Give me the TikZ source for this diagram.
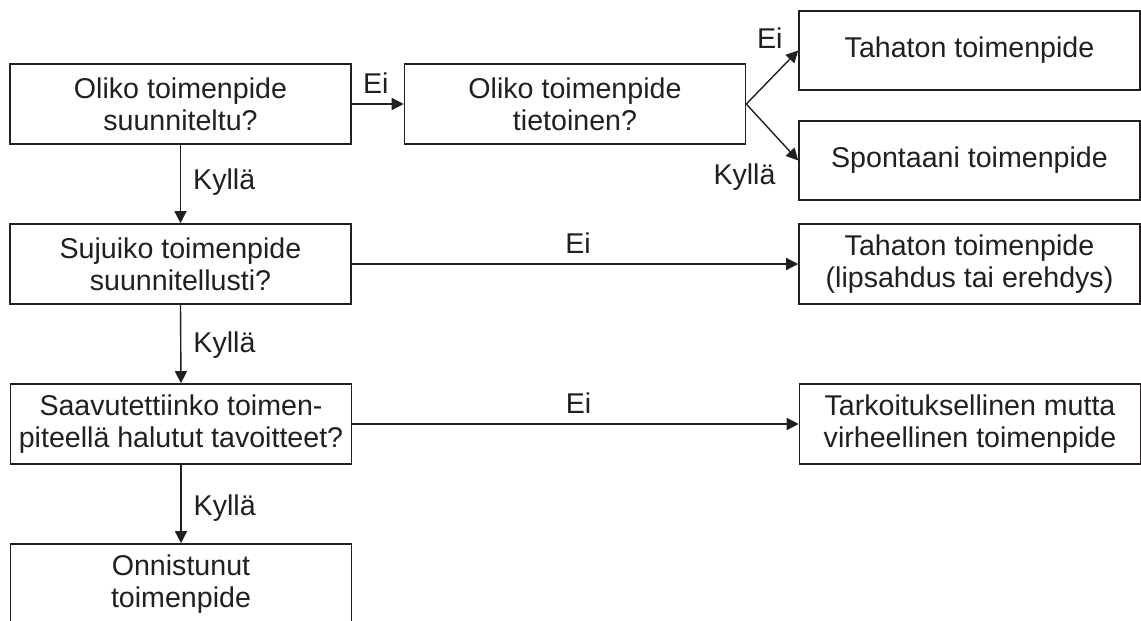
\documentclass[tikz,border=0pt]{standalone}
\usepackage{fontspec}
\setmainfont{Liberation Sans}
\usetikzlibrary{arrows.meta}
\definecolor{ink}{HTML}{231F20}
\begin{document}
\begin{tikzpicture}[x=1pt,y=-1pt,
  every node/.style={text=ink},
  box/.style={draw=ink, line width=1.6pt, minimum width=341pt, minimum height=80pt,
    inner sep=0pt, align=center, font=\fontsize{28.6}{32}\selectfont},
  lbl/.style={font=\fontsize{28.6}{32}\selectfont, inner sep=0pt},
  conn/.style={draw=ink, line width=1.4pt, -{Triangle[length=12pt,width=12pt]}}]
\clip (0,0) rectangle (1141,621);
\fill[white] (0,0) rectangle (1141,621);

% left column: the chain of questions
\node[box] (q1) at (180.5,104) {Oliko toimenpide\\suunniteltu?};
\node[box] (q2) at (575,104) {Oliko toimenpide\\tietoinen?};
\node[box] (q3) at (180.5,264) {Sujuiko toimenpide\\suunnitellusti?};
\node[box] (q4) at (181,424) {Saavutettiinko toimen-\\piteellä halutut tavoitteet?};
\node[box] (ok) at (181,584) {Onnistunut\\toimenpide};

% right column: outcomes
\node[box, minimum height=79pt] (r1) at (969.5,50.5) {Tahaton toimenpide};
\node[box, minimum height=79pt] (r2) at (969.5,160.5) {Spontaani toimenpide};
\node[box] (r3) at (969.5,264) {Tahaton toimenpide\\(lipsahdus tai erehdys)};
\node[box] (r4) at (970,424) {Tarkoituksellinen mutta\\virheellinen toimenpide};

% connectors
\draw[conn] (q1.east) -- node[lbl, anchor=base, yshift=11pt, xshift=-2pt] {Ei} (q2.west);
\draw[conn] (q2.east) -- node[lbl, at end, anchor=base east, xshift=-15pt, yshift=2pt] {Ei} (r1.west);
\draw[conn] (q2.east) -- node[lbl, at end, anchor=base east, xshift=-22pt, yshift=-24pt] {Kyllä} (r2.west);

\draw[conn] (q1.south) -- node[lbl, anchor=base west, xshift=12pt, yshift=-5pt] {Kyllä} (q3.north);
\draw[conn] (q3.east) -- node[lbl, anchor=base, yshift=11pt, xshift=3pt] {Ei} (r3.west);
\draw[conn] (q3.south) -- node[lbl, anchor=base west, xshift=12pt, yshift=-8pt] {Kyllä} (q4.north);
\draw[conn] (q4.east) -- node[lbl, anchor=base, yshift=11pt, xshift=3pt] {Ei} (r4.west);
\draw[conn] (q4.south) -- node[lbl, anchor=base west, xshift=12pt, yshift=-11pt] {Kyllä} (ok.north);
\end{tikzpicture}
\end{document}
